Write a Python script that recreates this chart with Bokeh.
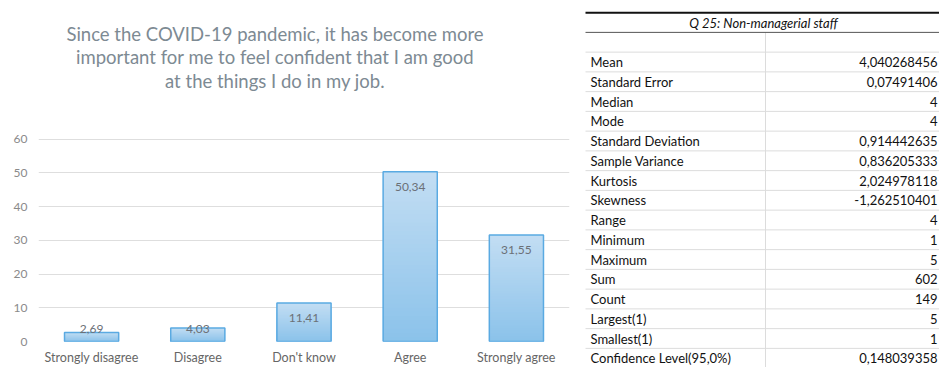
from bokeh.plotting import figure
from bokeh.models import Range1d, FactorRange, FixedTicker
from bokeh.layouts import row
from bokeh.embed import file_html
from bokeh.resources import INLINE
from bokeh.core.properties import value

# ---------------- data ----------------
categories = ["Strongly disagree", "Disagree", "Don't know", "Agree", "Strongly agree"]
percentages = [2.69, 4.03, 11.41, 50.34, 31.55]
y_ticks = [0, 10, 20, 30, 40, 50, 60]
title_lines = [
    "Since the COVID-19 pandemic, it has become more",
    "important for me to feel confident that I am good",
    "at the things I do in my job.",
]
table_title = "Q 25: Non-managerial staff"
stat_names = [
    "Mean", "Standard Error", "Median", "Mode", "Standard Deviation",
    "Sample Variance", "Kurtosis", "Skewness", "Range", "Minimum",
    "Maximum", "Sum", "Count", "Largest(1)", "Smallest(1)",
    "Confidence Level(95,0%)",
]
stat_values = [
    "4,040268456", "0,07491406", "4", "4", "0,914442635",
    "0,836205333", "2,024978118", "-1,262510401", "4", "1",
    "5", "602", "149", "5", "1",
    "0,148039358",
]

# ---------------- style ----------------
FONT = "Lato"
PX_PER_UNIT = 203 / 60.0
Y_TOP = 342 / PX_PER_UNIT
BAR_TOP_COLOR = (0xC2, 0xDD, 0xF3)
BAR_BOTTOM_COLOR = (0x8A, 0xC2, 0xEA)
BAR_LINE = "#5aaae2"


def mix(c0, c1, t):
    return "#%02x%02x%02x" % tuple(int(round(a + (b - a) * t)) for a, b in zip(c0, c1))


p = figure(
    width=575, height=367,
    x_range=FactorRange(*categories, range_padding=0),
    y_range=Range1d(0, Y_TOP),
    output_backend="svg", toolbar_location=None,
    min_border_left=38, min_border_right=6, min_border_top=0, min_border_bottom=25,
)
p.outline_line_color = None
p.background_fill_color = "white"
p.border_fill_color = "white"
p.xgrid.grid_line_color = None
p.ygrid.ticker = FixedTicker(ticks=y_ticks)
p.ygrid.grid_line_color = "#dedede"
p.ygrid.grid_line_width = 1
p.yaxis.ticker = FixedTicker(ticks=y_ticks)
for ax in (p.xaxis, p.yaxis):
    ax.axis_line_color = None
    ax.major_tick_line_color = None
    ax.minor_tick_line_color = None
    ax.major_tick_out = 0
    ax.major_tick_in = 0
    ax.minor_tick_out = 0
    ax.minor_tick_in = 0
    ax.axis_label_standoff = 0
    ax.major_label_text_font = FONT
    ax.major_label_text_font_size = "12px"
p.yaxis.major_label_text_color = "#8a8a8a"
p.yaxis.major_label_standoff = 11
p.xaxis.major_label_text_color = "#666666"
p.xaxis.major_label_text_font_size = "12.5px"
p.xaxis.major_label_standoff = 8

# gradient bars built from layered vbars
N = 40
for i in range(N, 0, -1):
    f = i / N
    p.vbar(x=categories, top=[v * f for v in percentages], width=0.51,
           fill_color=mix(BAR_BOTTOM_COLOR, BAR_TOP_COLOR, f), line_color=None)
p.vbar(x=categories, top=percentages, width=0.51, fill_color=None,
       line_color=BAR_LINE, line_width=1.5)

label_y = [max(v - 4.5, 3.8) for v in percentages]
label_text = [("%.2f" % v).replace(".", ",") for v in percentages]
p.text(x=categories, y=label_y, text=label_text, text_align="center",
       text_baseline="middle", text_font=value(FONT), text_font_size="12px",
       text_color="#6b7077")

# title
p.text(x=["Don't know"] * 3, y=[91.3, 84.4, 77.3], text=title_lines,
       x_offset=-29, text_align="center", text_baseline="middle",
       text_font=value(FONT), text_font_size="18.5px", text_color="#7d8a93")

# ---------------- table ----------------
t = figure(
    frame_width=364, frame_height=367,
    x_range=Range1d(0, 364), y_range=Range1d(17.468, -1.114),
    x_axis_location=None, y_axis_location=None, title=None,
    output_backend="svg", toolbar_location=None, min_border=0,
)
t.grid.grid_line_color = None
t.outline_line_color = None

rows = list(range(2, 2 + len(stat_names)))
# row separators
t.segment(x0=[10] * 17, x1=[364] * 17, y0=[k + 0.5 for k in range(1, 18)],
          y1=[k + 0.5 for k in range(1, 18)], line_color="#dcdcdc", line_width=1)
t.segment(x0=[190], x1=[190], y0=[0.5], y1=[17.5], line_color="#dcdcdc", line_width=1)
t.segment(x0=[10], x1=[364], y0=[0.5], y1=[0.5], line_color="#555555", line_width=1)
t.segment(x0=[10], x1=[364], y0=[-0.5], y1=[-0.5], line_color="#111111", line_width=2)

t.text(x=[188], y=[0], text=[table_title], text_align="center", text_baseline="middle",
       text_font=value(FONT), text_font_size="13px", text_font_style="italic",
       text_color="#111111")
t.text(x=[15] * len(stat_names), y=rows, text=stat_names, text_align="left",
       text_baseline="middle", text_font=value(FONT), text_font_size="13px",
       text_color="#111111")
t.text(x=[362] * len(stat_values), y=rows, text=stat_values, text_align="right",
       text_baseline="middle", text_font=value(FONT), text_font_size="13px",
       text_color="#111111")

layout = row(p, t, spacing=0)
open("out.html", "w").write(file_html(layout, INLINE))
